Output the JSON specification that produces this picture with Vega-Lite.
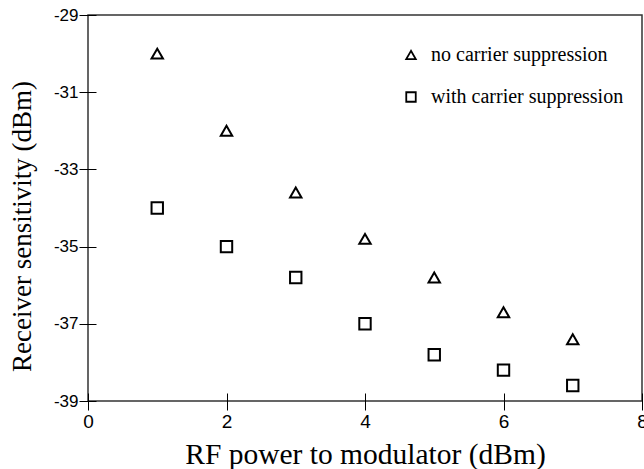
{
  "$schema": "https://vega.github.io/schema/vega-lite/v6.json",
  "width": 554,
  "height": 386,
  "autosize": {"type": "none"},
  "padding": {"left": 88, "top": 15, "right": 2, "bottom": 68},
  "background": "white",
  "config": {
    "view": {"stroke": "#333333", "strokeWidth": 1.5},
    "axis": {"grid": false, "domain": false}
  },
  "data": {
    "values": [
      {"rf": 1, "sens": -30.0, "series": "no carrier suppression"},
      {"rf": 2, "sens": -32.0, "series": "no carrier suppression"},
      {"rf": 3, "sens": -33.6, "series": "no carrier suppression"},
      {"rf": 4, "sens": -34.8, "series": "no carrier suppression"},
      {"rf": 5, "sens": -35.8, "series": "no carrier suppression"},
      {"rf": 6, "sens": -36.7, "series": "no carrier suppression"},
      {"rf": 7, "sens": -37.4, "series": "no carrier suppression"},
      {"rf": 1, "sens": -34.0, "series": "with carrier suppression"},
      {"rf": 2, "sens": -35.0, "series": "with carrier suppression"},
      {"rf": 3, "sens": -35.8, "series": "with carrier suppression"},
      {"rf": 4, "sens": -37.0, "series": "with carrier suppression"},
      {"rf": 5, "sens": -37.8, "series": "with carrier suppression"},
      {"rf": 6, "sens": -38.2, "series": "with carrier suppression"},
      {"rf": 7, "sens": -38.6, "series": "with carrier suppression"}
    ]
  },
  "mark": {"type": "point", "filled": false, "strokeWidth": 2, "size": 130, "color": "black", "opacity": 1},
  "encoding": {
    "x": {
      "field": "rf",
      "type": "quantitative",
      "scale": {"domain": [0, 8], "nice": false, "zero": false},
      "axis": {
        "values": [0, 2, 4, 6, 8],
        "offset": -8,
        "tickSize": 17,
        "tickColor": "black",
        "tickWidth": 1,
        "labelFont": "Liberation Sans",
        "labelFontSize": 19,
        "labelColor": "black",
        "labelPadding": 2,
        "labelFlush": false,
        "labelOverlap": false,
        "title": "RF power to modulator (dBm)",
        "titleFont": "Liberation Serif",
        "titleFontSize": 29.5,
        "titleFontWeight": "normal",
        "titleColor": "black",
        "titleX": 277,
        "titleY": 70,
        "titleBaseline": "alphabetic",
        "titleAlign": "center"
      }
    },
    "y": {
      "field": "sens",
      "type": "quantitative",
      "scale": {"domain": [-39, -29], "nice": false, "zero": false},
      "axis": {
        "values": [-29, -31, -33, -35, -37, -39],
        "labelExpr": "'-' + abs(datum.value)",
        "offset": -8,
        "tickSize": 17,
        "tickColor": "black",
        "tickWidth": 1,
        "labelFont": "Liberation Sans",
        "labelFontSize": 17,
        "labelColor": "black",
        "labelPadding": 1,
        "labelFlush": false,
        "labelOverlap": false,
        "title": "Receiver sensitivity (dBm)",
        "titleFont": "Liberation Serif",
        "titleFontSize": 27,
        "titleFontWeight": "normal",
        "titleColor": "black",
        "titleX": -66,
        "titleY": 211,
        "titleBaseline": "alphabetic",
        "titleAlign": "center"
      }
    },
    "shape": {
      "field": "series",
      "type": "nominal",
      "scale": {
        "domain": ["no carrier suppression", "with carrier suppression"],
        "range": ["triangle-up", "square"]
      },
      "legend": {
        "orient": "none",
        "legendX": 313,
        "legendY": 30,
        "title": null,
        "padding": 0,
        "labelFont": "Liberation Serif",
        "labelFontSize": 20,
        "labelColor": "black",
        "labelLimit": 0,
        "labelOffset": 10,
        "rowPadding": 22,
        "symbolSize": 90,
        "symbolStrokeColor": "black",
        "symbolFillColor": "transparent",
        "symbolStrokeWidth": 1.8
      }
    }
  }
}
